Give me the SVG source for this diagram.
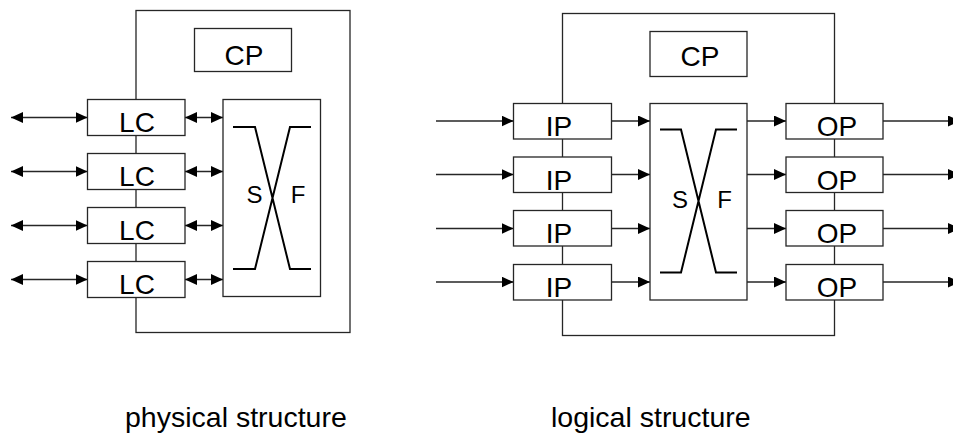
<svg xmlns="http://www.w3.org/2000/svg" width="953" height="434" viewBox="0 0 953 434">
<defs>
<marker id="ah" markerUnits="userSpaceOnUse" markerWidth="12" markerHeight="11" refX="12" refY="5.5" orient="auto-start-reverse" viewBox="0 0 12 11">
<path d="M0,0 L12,5.5 L0,11 z" fill="#000"/>
</marker>
</defs>
<style>
.box{fill:#fff;stroke:#262626;stroke-width:1.3}
.frame{fill:none;stroke:#262626;stroke-width:1.3}
.sw{fill:none;stroke:#000;stroke-width:2}
.lbl{font-family:"Liberation Sans",Arial,sans-serif;font-size:28px;fill:#000;text-anchor:middle}
.sf{font-family:"Liberation Sans",Arial,sans-serif;font-size:24px;fill:#000;text-anchor:middle}
.cap{font-family:"Liberation Sans",Arial,sans-serif;font-size:28.5px;fill:#000}
.c1{stroke:#262626;stroke-width:1.3;marker-end:url(#ah)}
.c2{stroke:#262626;stroke-width:1.3;marker-start:url(#ah);marker-end:url(#ah)}
</style>
<g id="physical-frame"><rect class="frame" x="136" y="10.5" width="214" height="322"/></g>
<g id="logical-frame"><rect class="frame" x="562.5" y="13.5" width="272" height="322"/></g>

<g id="connectors">
<line class="c2" x1="11" y1="117.5" x2="87.5" y2="117.5"/>
<line class="c2" x1="11" y1="171.5" x2="87.5" y2="171.5"/>
<line class="c2" x1="11" y1="225.5" x2="87.5" y2="225.5"/>
<line class="c2" x1="11" y1="279.5" x2="87.5" y2="279.5"/>
<line class="c2" x1="185" y1="117.5" x2="223" y2="117.5"/>
<line class="c2" x1="185" y1="171.5" x2="223" y2="171.5"/>
<line class="c2" x1="185" y1="225.5" x2="223" y2="225.5"/>
<line class="c2" x1="185" y1="279.5" x2="223" y2="279.5"/>
<line class="c1" x1="436" y1="121" x2="513.5" y2="121"/>
<line class="c1" x1="436" y1="174.5" x2="513.5" y2="174.5"/>
<line class="c1" x1="436" y1="228.5" x2="513.5" y2="228.5"/>
<line class="c1" x1="436" y1="282" x2="513.5" y2="282"/>
<line class="c1" x1="611.5" y1="121" x2="650" y2="121"/>
<line class="c1" x1="611.5" y1="174.5" x2="650" y2="174.5"/>
<line class="c1" x1="611.5" y1="228.5" x2="650" y2="228.5"/>
<line class="c1" x1="611.5" y1="282" x2="650" y2="282"/>
<line class="c1" x1="747" y1="121" x2="786" y2="121"/>
<line class="c1" x1="747" y1="174.5" x2="786" y2="174.5"/>
<line class="c1" x1="747" y1="228.5" x2="786" y2="228.5"/>
<line class="c1" x1="747" y1="282" x2="786" y2="282"/>
<line class="c1" x1="883" y1="121" x2="960" y2="121"/>
<line class="c1" x1="883" y1="174.5" x2="960" y2="174.5"/>
<line class="c1" x1="883" y1="228.5" x2="960" y2="228.5"/>
<line class="c1" x1="883" y1="282" x2="960" y2="282"/>
</g>

<g id="cp1"><rect class="box" x="194.5" y="28.5" width="97" height="43"/><text class="lbl" x="244" y="65">CP</text></g>
<g id="lc1"><rect class="box" x="87.5" y="99.5" width="97.5" height="36"/><text class="lbl" x="137" y="132">LC</text></g>
<g id="lc2"><rect class="box" x="87.5" y="153.5" width="97.5" height="36"/><text class="lbl" x="137" y="186">LC</text></g>
<g id="lc3"><rect class="box" x="87.5" y="207.5" width="97.5" height="36"/><text class="lbl" x="137" y="240">LC</text></g>
<g id="lc4"><rect class="box" x="87.5" y="261.5" width="97.5" height="36"/><text class="lbl" x="137" y="294">LC</text></g>
<g id="sf1"><rect class="box" x="223" y="99.5" width="97.5" height="197"/>
<path class="sw" d="M233,127 H255 L290,269 H311 M311,127 H290 L255,269 H233"/>
<text class="sf" x="254.5" y="203">S</text><text class="sf" x="298" y="203">F</text></g>

<g id="cp2"><rect class="box" x="650" y="31.5" width="97" height="45"/><text class="lbl" x="700" y="66">CP</text></g>
<g id="ip1"><rect class="box" x="513.5" y="103.5" width="98" height="35.5"/><text class="lbl" x="559" y="136">IP</text></g>
<g id="ip2"><rect class="box" x="513.5" y="157" width="98" height="35.5"/><text class="lbl" x="559" y="189.5">IP</text></g>
<g id="ip3"><rect class="box" x="513.5" y="210.5" width="98" height="35.5"/><text class="lbl" x="559" y="243">IP</text></g>
<g id="ip4"><rect class="box" x="513.5" y="264.5" width="98" height="35.5"/><text class="lbl" x="559" y="297">IP</text></g>
<g id="sf2"><rect class="box" x="650" y="103.5" width="97" height="196.5"/>
<path class="sw" d="M660,129.5 H681 L716,272.5 H737 M737,129.5 H716 L681,272.5 H660"/>
<text class="sf" x="680" y="207.5">S</text><text class="sf" x="724.5" y="207.5">F</text></g>
<g id="op1"><rect class="box" x="786" y="103.5" width="97" height="35.5"/><text class="lbl" x="837" y="136">OP</text></g>
<g id="op2"><rect class="box" x="786" y="157" width="97" height="35.5"/><text class="lbl" x="837" y="189.5">OP</text></g>
<g id="op3"><rect class="box" x="786" y="210.5" width="97" height="35.5"/><text class="lbl" x="837" y="243">OP</text></g>
<g id="op4"><rect class="box" x="786" y="264.5" width="97" height="35.5"/><text class="lbl" x="837" y="297">OP</text></g>

<g id="captions">
<text class="cap" x="125" y="427">physical structure</text>
<text class="cap" x="551" y="427">logical structure</text>
</g>
</svg>
